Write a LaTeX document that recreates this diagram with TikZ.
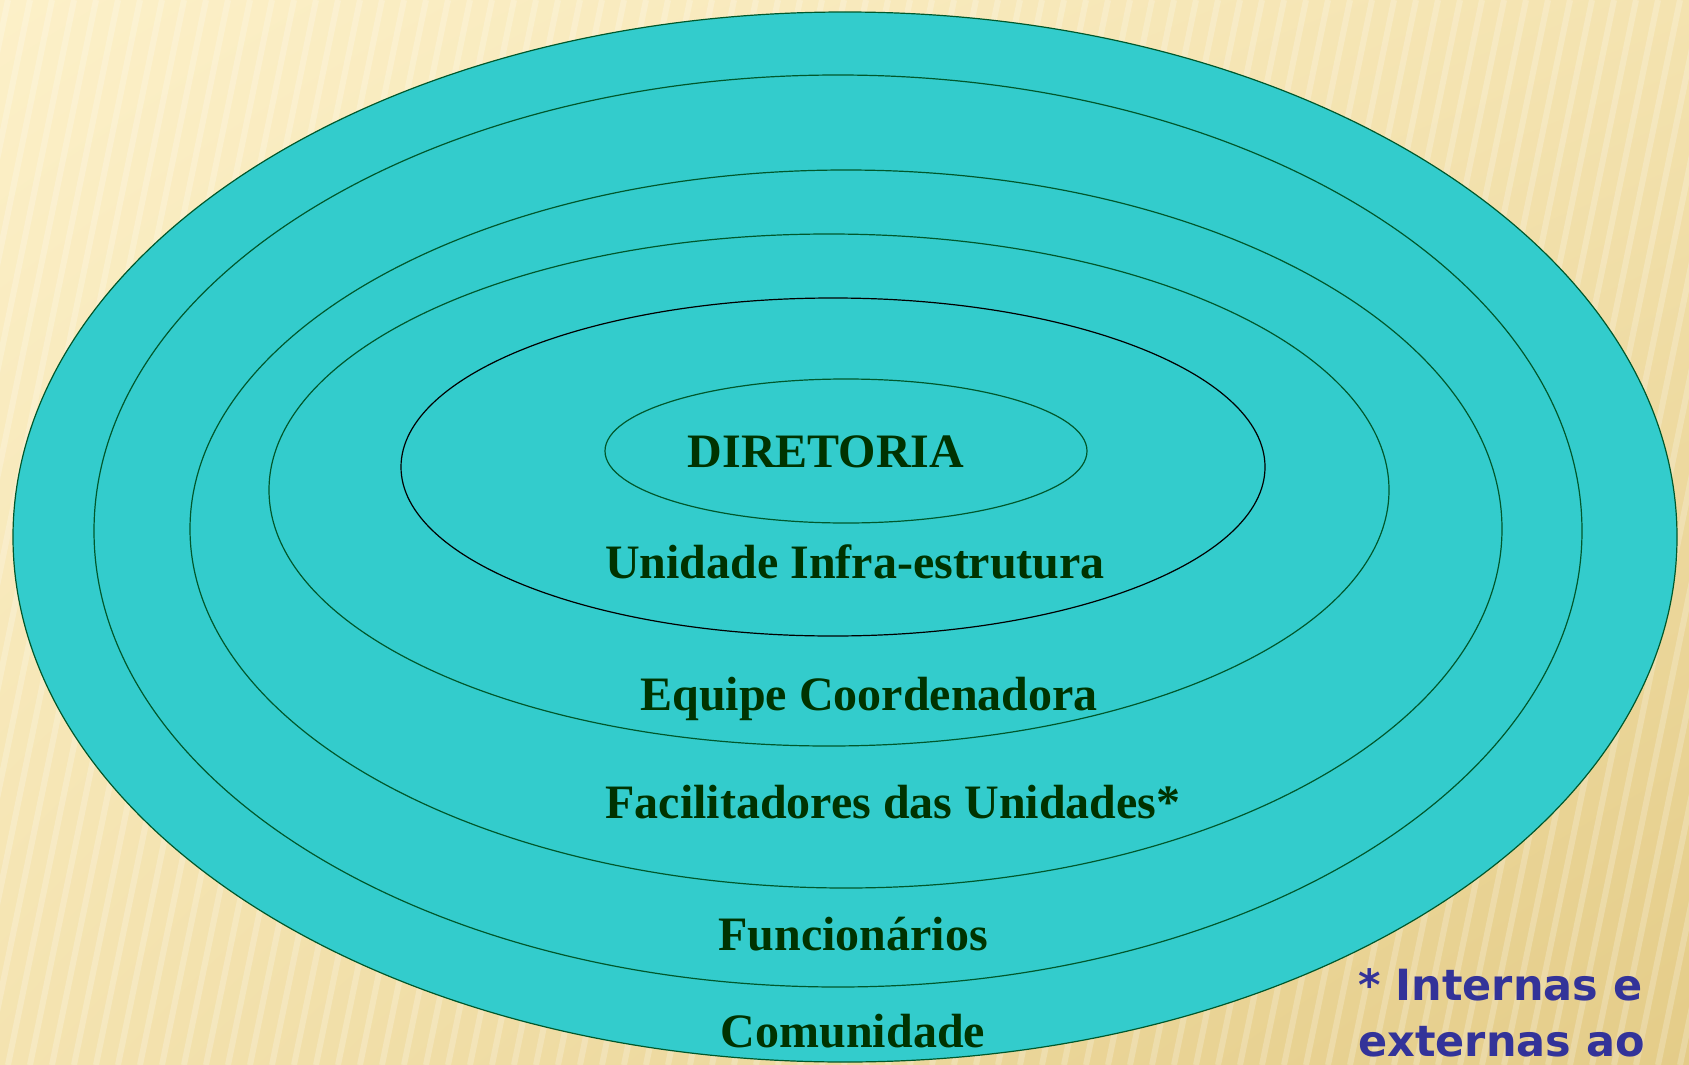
\documentclass[tikz,border=0pt]{standalone}
\usepackage{fontspec}
\setmainfont{Liberation Serif}
\newfontfamily\notefont{DejaVu Sans}
\usetikzlibrary{shapes.geometric, shadings}
\definecolor{ringfill}{HTML}{33CCCC}
\definecolor{ringline}{HTML}{00582C}
\definecolor{labelgreen}{HTML}{003300}
\definecolor{notecolor}{HTML}{333399}
\definecolor{bgLight}{HTML}{FCF0C8}
\definecolor{bgMid}{HTML}{F4E3B0}
\definecolor{bgDark}{HTML}{E4CC88}
\tikzset{
    ring/.style={ellipse, draw=ringline, fill=ringfill, line width=1.2pt, inner sep=0pt},
    ring label/.style={font=\fontsize{48}{52}\selectfont\bfseries, text=labelgreen, inner sep=0pt, anchor=base},
    note label/.style={font=\notefont\fontsize{43}{56}\selectfont\bfseries, text=notecolor, align=left, anchor=north west, inner sep=0pt},
    stripe/.style={white, opacity=0.22, line width=6pt}
}

\begin{document}
\begin{tikzpicture}[x=1pt, y=-1pt]
      \useasboundingbox (0,0) rectangle (1689,1065);
      \clip (0,0) rectangle (1689,1065);

      % --- Background ---
      \shade[upper left=bgLight, upper right=bgMid, lower left=bgMid, lower right=bgDark]
          (0,0) rectangle (1689,1065);
      \foreach \sx in {-300,-278,...,1700}
          \draw[stripe] (\sx+220,0) -- (\sx,1065);

      % --- Rings ---
      \node (comunidade) [ring, minimum width=1664pt, minimum height=1050pt] at (845,537) {};
      \node (funcionarios) [ring, minimum width=1488pt, minimum height=912pt] at (838,531) {};
      \node (facilitadores) [ring, minimum width=1312pt, minimum height=718pt] at (846,529) {};
      \node (equipe) [ring, minimum width=1120pt, minimum height=512pt] at (829,490) {};
      \node (unidade) [ring, draw=black, minimum width=864pt, minimum height=338pt] at (833,467) {};
      \node (diretoria) [ring, minimum width=482pt, minimum height=144pt] at (846,451) {};

      % --- Labels ---
      \node (diretoria_label) [ring label] at (826,467) {DIRETORIA};
      \node (unidade_label) [ring label] at (855,578) {Unidade Infra-estrutura};
      \node (equipe_label) [ring label] at (869,710) {Equipe Coordenadora};
      \node (facilitadores_label) [ring label] at (893,818) {Facilitadores das Unidades*};
      \node (funcionarios_label) [ring label] at (853,950) {Funcionários};
      \node (comunidade_label) [ring label] at (853,1047) {Comunidade};

      % --- Note ---
      \node (note) [note label] at (1358,968) {* Internas e\\externas ao};
  \end{tikzpicture}
\end{document}
